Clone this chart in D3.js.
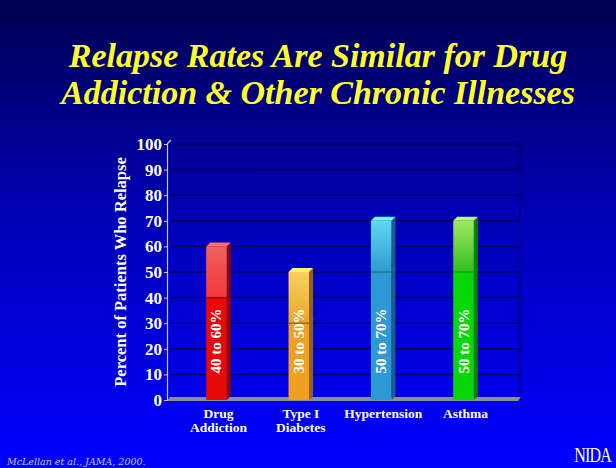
<!DOCTYPE html>
<html>
<head>
<meta charset="utf-8">
<script src="https://cdn.jsdelivr.net/npm/d3@7"></script>
<style>
  body { margin: 0; padding: 0; overflow: hidden; }
  svg { display: block; }
</style>
</head>
<body>
<div id="chart"></div>
<script>
// chart data
const categories = [["Drug", "Addiction"], ["Type I", "Diabetes"], ["Hypertension"], ["Asthma"]];
const lowValues = [40, 30, 50, 50];
const highValues = [60, 50, 70, 70];
const rangeLabels = ["40 to 60%", "30 to 50%", "50 to 70%", "50 to 70%"];
const yTicks = [0, 10, 20, 30, 40, 50, 60, 70, 80, 90, 100];

// colours per bar: [lower, upper light, upper dark]
const colors = [
  ["#e80808", "#f06060", "#f03838"],
  ["#f0a020", "#f8d060", "#e8a828"],
  ["#2c98d4", "#60d8f0", "#2c9cd0"],
  ["#08d808", "#a0e860", "#30c020"]
];

const width = 616;
const height = 468;
const margin = { top: 144, left: 170, right: 96, bottom: 68 };
const depth = 4;

const svg = d3.select("#chart").append("svg")
  .attr("width", width)
  .attr("height", height);

// background gradient
const defs = svg.append("defs");
const bg = defs.append("linearGradient").attr("id", "bg")
  .attr("x1", 0).attr("y1", 0).attr("x2", 0).attr("y2", 1);
bg.append("stop").attr("offset", "0%").attr("stop-color", "#000050");
bg.append("stop").attr("offset", "45%").attr("stop-color", "#0000b4");
bg.append("stop").attr("offset", "100%").attr("stop-color", "#0000ff");
svg.append("rect").attr("width", width).attr("height", height).attr("fill", "url(#bg)");

colors.forEach(function (c, i) {
  const g = defs.append("linearGradient").attr("id", "up" + i)
    .attr("x1", 0).attr("y1", 0).attr("x2", 0).attr("y2", 1);
  g.append("stop").attr("offset", "0%").attr("stop-color", c[1]);
  g.append("stop").attr("offset", "100%").attr("stop-color", c[2]);
});

// title
const titleLines = ["Relapse Rates Are Similar for Drug", "Addiction & Other Chronic Illnesses"];
svg.append("g").selectAll("text")
  .data(titleLines)
  .join("text")
  .attr("x", 318).attr("y", (d, i) => 67 + i * 37)
  .attr("text-anchor", "middle")
  .attr("font-family", "Liberation Serif")
  .attr("font-weight", "bold").attr("font-style", "italic")
  .attr("font-size", 34).attr("fill", "#ffff28")
  .text(d => d);

// scales
const x = d3.scaleBand()
  .domain(d3.range(categories.length))
  .range([margin.left - 5, width - margin.right - 5])
  .paddingInner(0.75).paddingOuter(0.5);
const y = d3.scaleLinear().domain([0, 100]).range([height - margin.bottom, margin.top]);

const x0 = margin.left, x1 = width - margin.right;

// grid lines
svg.append("g")
  .selectAll("line")
  .data(yTicks.slice(1))
  .join("line")
  .attr("x1", x0).attr("x2", x1)
  .attr("y1", d => y(d)).attr("y2", d => y(d))
  .attr("stroke", "#000060").attr("stroke-width", 1.5);

// back wall right edge
svg.append("line")
  .attr("x1", x1).attr("x2", x1)
  .attr("y1", y(100)).attr("y2", y(0))
  .attr("stroke", "#000070").attr("stroke-width", 1.5);

// floor
svg.append("path")
  .attr("d", `M${x0 - 3},${y(0) + 1} L${x1 - 2},${y(0) + 1} L${x1 + 1},${y(0) - 3} L${x0},${y(0) - 3} Z`)
  .attr("fill", "#8c8c9c");

// y axis
const yAxis = svg.append("g")
  .attr("transform", `translate(${x0 - 3},0)`)
  .call(d3.axisLeft(y).tickValues(yTicks).tickSize(3).tickPadding(2));
yAxis.select(".domain").attr("stroke", "#c8c8d8").attr("stroke-width", 1.2);
yAxis.selectAll(".tick line").attr("stroke", "#c8c8d8");
yAxis.selectAll("text")
  .attr("fill", "#ffffff")
  .attr("font-family", "Liberation Serif")
  .attr("font-weight", "bold")
  .attr("font-size", 17);
svg.append("line")
  .attr("x1", x0 - 3).attr("y1", y(100))
  .attr("x2", x0 + 1).attr("y2", y(100) - 4)
  .attr("stroke", "#c8c8d8").attr("stroke-width", 1.2);

// y axis title
svg.append("text")
  .attr("transform", `translate(126,${(y(0) + y(100)) / 2}) rotate(-90)`)
  .attr("text-anchor", "middle")
  .attr("font-family", "Liberation Serif")
  .attr("font-weight", "bold").attr("font-size", 16.5)
  .attr("fill", "#ffffff")
  .text("Percent of Patients Who Relapse");

// bars
const bars = svg.append("g").selectAll("g")
  .data(d3.range(categories.length))
  .join("g");

bars.each(function (i) {
  const g = d3.select(this);
  const bx = x(i), bw = x.bandwidth();
  const c = colors[i];
  // side face
  g.append("path")
    .attr("d", `M${bx + bw},${y(highValues[i])} L${bx + bw + depth},${y(highValues[i]) - depth} L${bx + bw + depth},${y(0) - depth} L${bx + bw},${y(0)} Z`)
    .attr("fill", d3.color(c[0]).darker(1.4));
  // lower segment
  g.append("rect")
    .attr("x", bx).attr("y", y(lowValues[i]))
    .attr("width", bw).attr("height", y(0) - y(lowValues[i]))
    .attr("fill", c[0]);
  // upper segment
  g.append("rect")
    .attr("x", bx).attr("y", y(highValues[i]))
    .attr("width", bw).attr("height", y(lowValues[i]) - y(highValues[i]))
    .attr("fill", "url(#up" + i + ")");
  // divider
  g.append("path")
    .attr("d", `M${bx},${y(lowValues[i])} L${bx + bw},${y(lowValues[i])} L${bx + bw + depth},${y(lowValues[i]) - depth}`)
    .attr("fill", "none")
    .attr("stroke", d3.color(c[0]).darker(1.2)).attr("stroke-width", 1.2);
  // top face
  g.append("path")
    .attr("d", `M${bx},${y(highValues[i])} L${bx + depth},${y(highValues[i]) - depth} L${bx + bw + depth},${y(highValues[i]) - depth} L${bx + bw},${y(highValues[i])} Z`)
    .attr("fill", d3.color(c[1]).brighter(0.4));
  // range label
  g.append("text")
    .attr("transform", `translate(${bx + bw / 2 + 5},${y(23)}) rotate(-90)`)
    .attr("text-anchor", "middle")
    .attr("font-family", "Liberation Serif")
    .attr("font-weight", "bold").attr("font-size", 15)
    .attr("fill", "#ffffff")
    .text(rangeLabels[i]);
  // category label
  g.append("text")
    .attr("text-anchor", "middle")
    .attr("font-family", "Liberation Serif")
    .attr("font-weight", "bold").attr("font-size", 13.5)
    .attr("fill", "#ffffff")
    .selectAll("tspan")
    .data(categories[i])
    .join("tspan")
    .attr("x", bx + bw / 2 + 2)
    .attr("y", (d, k) => y(0) + 18 + k * 14)
    .text(d => d);
});

// footer
svg.append("text")
  .attr("x", 7).attr("y", 465)
  .attr("font-family", "DejaVu Serif")
  .attr("font-style", "italic").attr("font-size", 9.5)
  .attr("fill", "#c8c8e8")
  .text("McLellan et al., JAMA, 2000.");
svg.append("text")
  .attr("transform", "translate(611,462) scale(0.8,1)")
  .attr("text-anchor", "end")
  .attr("font-family", "Liberation Serif")
  .attr("font-size", 20)
  .attr("letter-spacing", -1)
  .attr("fill", "#ffffff")
  .text("NIDA");
</script>
</body>
</html>
